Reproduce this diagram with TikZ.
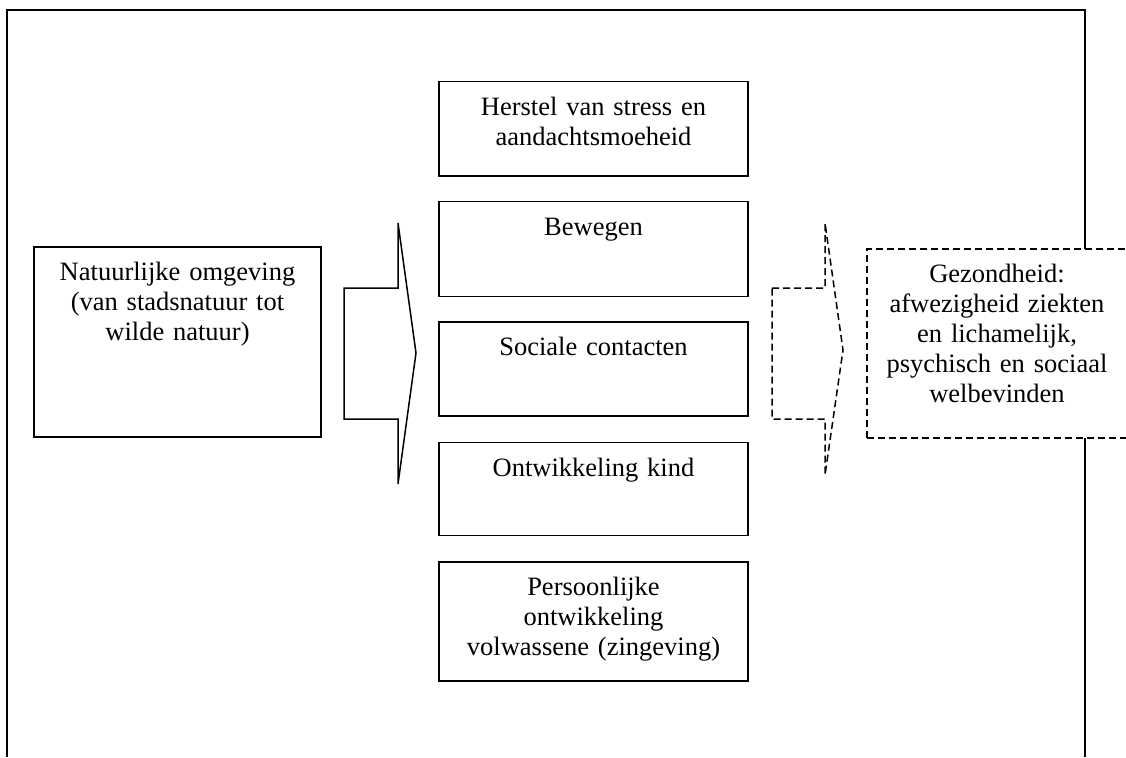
\documentclass[tikz,border=0pt]{standalone}
\usepackage{fontspec}
\setmainfont{Liberation Serif}
\usetikzlibrary{positioning}
\begin{document}
\begin{tikzpicture}[x=1pt,y=-1pt,node distance=24pt,line width=1.5pt,font=\fontsize{26.5}{30}\selectfont]
\tikzstyle{box}=[draw,fill=white,anchor=north,align=center,inner xsep=0pt,inner ysep=0pt,text height=34pt]
\tikzstyle{effect}=[box,text width=309pt]
\tikzstyle{dashline}=[dash pattern=on 7pt off 4pt]
\useasboundingbox (0,0) rectangle (1126,757);
\draw[line width=2pt] (7,757) -- (7,10) -- (1085,10) -- (1085,757);
\node[box,text width=287pt,text depth=156pt] (natuur) at (177.5,246) {Natuurlijke omgeving\\(van stadsnatuur tot\\wilde natuur)};
\draw[fill=white] (344,288) -- (398,288) -- (398,223) -- (416,353) -- (398,484) -- (398,419) -- (344,419) -- cycle;
\node[effect,text depth=60pt] (herstel) at (593.5,81) {Herstel van stress en\\aandachtsmoeheid};
\node[effect,text depth=61pt,below=of herstel] (bewegen) {Bewegen};
\node[effect,text depth=60pt,below=of bewegen] (sociaal) {Sociale contacten};
\node[effect,text depth=59pt,below=25pt of sociaal] (kind) {Ontwikkeling kind};
\node[effect,text depth=85pt,below=25pt of kind] (persoon) {Persoonlijke\\ontwikkeling\\volwassene (zingeving)};
\draw[dashline] (772,288) -- (825,288) -- (825,223) -- (843,350) -- (825,475) -- (825,419) -- (772,419) -- cycle;
\node[box,dashline,text width=260pt,text depth=155pt] (gezond) at (997,248) {Gezondheid:\\afwezigheid ziekten\\en lichamelijk,\\psychisch en sociaal\\welbevinden};
\end{tikzpicture}
\end{document}
